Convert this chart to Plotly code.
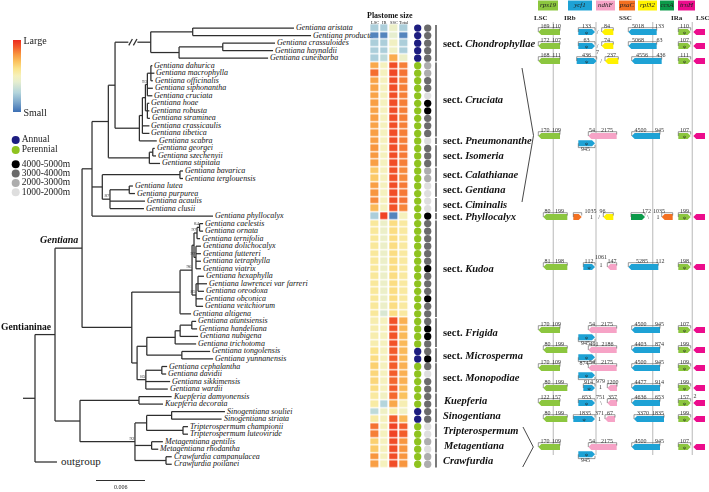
import re
import plotly.graph_objects as go

W, H = 709, 492
SERIF = "Liberation Serif"

# ---------------- DATA ----------------
# Phylogeny in Newick; branch lengths in units of 1e-4 substitutions/site
CHONDRO = ("((Gentiana_aristata:124.0,Gentiana_producta:144.9):51.4,"
           "((Gentiana_crassuloides:64.0,Gentiana_haynaldii:61.6):53.5,Gentiana_cuneibarba:109.0):34.7)//")
CRUCIATA = ("((((Gentiana_dahurica:1.8,Gentiana_macrophylla:4.3,Gentiana_officinalis:2.4):4.3,"
            "Gentiana_siphonantha:6.7,Gentiana_cruciata:6.1)93:2.4,"
            "(Gentiana_hoae:2.4,Gentiana_robusta:2.4,Gentiana_straminea:3.1):2.4):3.7,"
            "Gentiana_crassicaulis:8.6,Gentiana_tibetica:8.6)")
ISOMERIA = "((Gentiana_georgei:2.4,Gentiana_szechenyii:4.0):4.2,Gentiana_stipitata:13.1)"
CALA_GENT_CIMI = ("((Gentiana_bavarica:3.7,Gentiana_terglouensis:3.7):95.1,"
                  "((Gentiana_lutea:4.5,Gentiana_purpurea:7.0):23.6,"
                  "Gentiana_acaulis:42.9,Gentiana_clusii:41.6)87:9.4)")
KUDOA = ("(((((Gentiana_caelestis:4.3,Gentiana_ornata:4.3)84:3.1,Gentiana_ternifolia:3.7)97:3.7,"
         "(Gentiana_dolichocalyx:6.1,Gentiana_futtereri:6.1,Gentiana_tetraphylla:6.1,Gentiana_viatrix:6.1)97:2.4):2.4,"
         "((Gentiana_hexaphylla:7.3,Gentiana_lawrencei_var_farreri:11.0,Gentiana_oreodoxa:7.3):2.4,"
         "Gentiana_obconica:8.6,Gentiana_veitchiorum:8.6)85:4.9)96:14.7,Gentiana_altigena:13.5)")
FRIG_MICRO_MONO = ("(((((Gentiana_atuntsiensis:5.3,Gentiana_handeliana:6.5):14.3,Gentiana_nubigena:22.0):6.1,"
                   "Gentiana_trichotoma:25.7):34.7,(Gentiana_tongolensis:34.7,Gentiana_yunnanensis:38.3):42.9):11.9,"
                   "((Gentiana_cephalantha:6.5,Gentiana_davidii:5.3):19.6,Gentiana_sikkimensis:29.8,"
                   "Gentiana_wardii:26.9)85:10.7)")
OTHER_GENERA = ("((Kuepferia_damyonensis:40.0,Kuepferia_decorata:29.4):72.2,"
                "(((Sinogentiana_souliei:65.3,Sinogentiana_striata:61.2):30.6,"
                "(Tripterospermum_championii:6.1,Tripterospermum_luteoviride:6.1):44.5):14.3,"
                "(Metagentiana_gentilis:13.8,Metagentiana_rhodantha:8.1):20.4,"
                "(Crawfurdia_campanulacea:7.0,Crawfurdia_poilanei:7.0):38.0)92:67.3)")
UPPER = ("(((" + CHONDRO + ":43.7,(" + CRUCIATA + ":3.7,Gentiana_scabra:21.3):29.8):8.2,"
         + ISOMERIA + ":50.2):20.0," + CALA_GENT_CIMI + ":12.6,Gentiana_phyllocalyx:148.2)")
GENTIANA = "(" + UPPER + ":12.2,(" + KUDOA + ":59.1," + FRIG_MICRO_MONO + ":6.5):60.9)Gentiana"
NEWICK = "((" + GENTIANA + ":33.1," + OTHER_GENERA + ":30.6)Gentianinae:24.5,outgroup:26.9):14.7;"
BL_UNIT = 1e-4
SCALE_BAR = 0.006

TAXA = ["Gentiana aristata", "Gentiana producta", "Gentiana crassuloides", "Gentiana haynaldii",
        "Gentiana cuneibarba", "Gentiana dahurica", "Gentiana macrophylla", "Gentiana officinalis",
        "Gentiana siphonantha", "Gentiana cruciata", "Gentiana hoae", "Gentiana robusta",
        "Gentiana straminea", "Gentiana crassicaulis", "Gentiana tibetica", "Gentiana scabra",
        "Gentiana georgei", "Gentiana szechenyii", "Gentiana stipitata", "Gentiana bavarica",
        "Gentiana terglouensis", "Gentiana lutea", "Gentiana purpurea", "Gentiana acaulis",
        "Gentiana clusii", "Gentiana phyllocalyx", "Gentiana caelestis", "Gentiana ornata",
        "Gentiana ternifolia", "Gentiana dolichocalyx", "Gentiana futtereri", "Gentiana tetraphylla",
        "Gentiana viatrix", "Gentiana hexaphylla", "Gentiana lawrencei var farreri", "Gentiana oreodoxa",
        "Gentiana obconica", "Gentiana veitchiorum", "Gentiana altigena", "Gentiana atuntsiensis",
        "Gentiana handeliana", "Gentiana nubigena", "Gentiana trichotoma", "Gentiana tongolensis",
        "Gentiana yunnanensis", "Gentiana cephalantha", "Gentiana davidii", "Gentiana sikkimensis",
        "Gentiana wardii", "Kuepferia damyonensis", "Kuepferia decorata", "Sinogentiana souliei",
        "Sinogentiana striata", "Tripterospermum championii", "Tripterospermum luteoviride",
        "Metagentiana gentilis", "Metagentiana rhodantha", "Crawfurdia campanulacea", "Crawfurdia poilanei"]

# relative plastome region sizes (0 = small, 1 = large)
LSC = [0.25, 0.05, 0.25, 0.25, 0.25,
       0.76, 0.87, 0.77, 0.77, 0.77, 0.78, 0.77, 0.78, 0.77, 0.78,
       0.78, 0.80, 0.79, 0.78, 0.68, 0.68, 0.78, 0.80, 0.82, 0.72, 0.25,
       0.57, 0.57, 0.57, 0.57, 0.57, 0.57, 0.57, 0.57, 0.57, 0.57, 0.57, 0.57, 0.57,
       0.53, 0.53, 0.53, 0.53, 0.60, 0.62, 0.66, 0.64, 0.64, 0.62,
       0.56, 0.55, 0.30, 0.55, 0.86, 0.84, 0.66, 0.68, 0.80, 0.78]
IR = [0.25, 0.05, 0.25, 0.25, 0.30,
      0.50, 0.50, 0.50, 0.50, 0.50, 0.50, 0.50, 0.50, 0.50, 0.50,
      0.50, 0.50, 0.50, 0.50, 0.50, 0.50, 0.50, 0.50, 0.50, 0.50, 0.95,
      0.45, 0.45, 0.45, 0.45, 0.45, 0.45, 0.45, 0.45, 0.45, 0.45, 0.45, 0.45, 0.38,
      0.50, 0.50, 0.50, 0.50, 0.50, 0.50, 0.50, 0.50, 0.50, 0.50,
      0.48, 0.27, 0.47, 0.50, 0.50, 0.50, 0.50, 0.50, 0.50, 0.50]
SSC = [0.45, 0.42, 0.48, 0.47, 0.75,
       0.93, 0.94, 0.93, 0.93, 0.93, 0.93, 0.93, 0.93, 0.93, 0.93,
       0.93, 0.93, 0.93, 0.93, 0.92, 0.92, 0.93, 0.93, 0.93, 0.92, 0.05,
       0.62, 0.62, 0.62, 0.62, 0.62, 0.62, 0.62, 0.62, 0.62, 0.62, 0.62, 0.62, 0.62,
       0.92, 0.92, 0.92, 0.92, 0.90, 0.90, 0.90, 0.90, 0.88, 0.90,
       0.88, 0.76, 0.55, 0.90, 0.95, 0.95, 0.93, 0.93, 0.93, 0.93]
TOTAL = [0.25, 0.05, 0.25, 0.25, 0.45,
         0.84, 0.86, 0.84, 0.84, 0.84, 0.84, 0.84, 0.84, 0.84, 0.84,
         0.84, 0.85, 0.85, 0.84, 0.82, 0.82, 0.85, 0.85, 0.86, 0.83, 0.50,
         0.56, 0.56, 0.56, 0.56, 0.56, 0.56, 0.56, 0.56, 0.56, 0.56, 0.56, 0.56, 0.56,
         0.74, 0.72, 0.72, 0.72, 0.72, 0.72, 0.74, 0.74, 0.74, 0.72,
         0.70, 0.52, 0.48, 0.72, 0.90, 0.90, 0.80, 0.80, 0.80, 0.80]
REGIONS = ["LSC", "IR", "SSC", "Total"]

# life form: A = annual, P = perennial
LIFE = ["A", "A", "A", "A", "A",
        "P", "P", "P", "P", "P", "P", "P", "P", "P", "P",
        "P", "P", "P", "P", "P", "P", "P", "P", "P", "P", "P",
        "P", "P", "P", "P", "P", "P", "P", "P", "P", "P", "P", "P", "P",
        "P", "P", "P", "P", "A", "A", "P", "P", "P", "P",
        "P", "P", "A", "A", "P", "P", "P", "P", "P", "P"]
# altitude class: 4 = 4000-5000m, 3 = 3000-4000m, 2 = 2000-3000m, 1 = 1000-2000m
ALT = [3, 3, 3, 3, 3,
       2, 2, 3, 3, 1, 4, 4, 3, 3, 3,
       1, 3, 3, 3, 2, 2, 1, 1, 1, 1, 4,
       3, 3, 3, 3, 3, 3, 4, 3, 3, 3, 4, 3, 3,
       3, 4, 4, 3, 3, 4, 3, 1, 3, 3,
       3, 3, 3, 3, 1, 1, 2, 1, 2, 2]

# (name, is a section of Gentiana, first row, last row) -- rows 1-based
SECTIONS = [("Chondrophyllae", True, 1, 5), ("Cruciata", True, 6, 15), ("Pneumonanthe", True, 16, 16),
            ("Isomeria", True, 17, 19), ("Calathianae", True, 20, 21), ("Gentiana", True, 22, 23),
            ("Ciminalis", True, 24, 25), ("Phyllocalyx", True, 26, 26), ("Kudoa", True, 27, 39),
            ("Frigida", True, 40, 43), ("Microsperma", True, 44, 45), ("Monopodiae", True, 46, 49),
            ("Kuepferia", False, 50, 51), ("Sinogentiana", False, 52, 53),
            ("Tripterospermum", False, 54, 55), ("Metagentiana", False, 56, 57),
            ("Crawfurdia", False, 58, 59)]

GENES = ["rps19", "ycf1", "ndhF", "psaC", "rpl32", "ccsA", "trnH"]
GENE_COLORS = ["#8cc63f", "#1ea2d5", "#f6a3c6", "#f37021", "#fff200", "#0c9a4a", "#ec0c8c"]

# boundary maps: feature = (gene, left, right, direction, pseudogene, vertical offset)
CRU_FEATS = [("rps19", 538.3, 560.0, "L", 0, 0), ("ndhF", 588.3, 616.7, "L", 0, 0),
             ("ycf1", 578.3, 595.0, "R", 1, 7.3), ("ycf1", 631.7, 660.0, "L", 0, 0),
             ("rps19", 678.3, 690.7, "R", 1, 0), ("trnH", 693.3, 705.0, "L", 0, 0)]
CRU_NUMS = [("170", 545, -6), ("109", 556.5, -6), ("54", 592, -6), ("2175", 607, -6),
            ("945", 585.5, 13.3), ("4500", 640.5, -6), ("945", 659.5, -6), ("107", 684.5, -6)]
CH_FEATS = [("rps19", 538.3, 560.0, "L", 0, 0), ("ycf1", 578.3, 595.0, "R", 1, 0),
            ("rpl32", 601.7, 613.3, "L", 0, 0), ("ycf1", 628.3, 656.7, "L", 0, 0),
            ("rps19", 678.3, 690.7, "R", 1, 0), ("trnH", 693.3, 705.0, "L", 0, 0)]
BOUNDARY_ROWS = [
    (32, CH_FEATS, [("169", 545, -6), ("110", 556.5, -6), ("133", 586.5, -6), ("84", 607, -6),
                    ("5018", 638, -6), ("133", 659.5, -6), ("110", 684.5, -6), ("/", 597.5, 0)]),
    (46, CH_FEATS, [("172", 545, -6), ("107", 556.5, -6), ("63", 586.5, -6), ("74", 607, -6),
                    ("5068", 638, -6), ("63", 659.5, -6), ("107", 684.5, -6), ("/", 597.5, 0)]),
    (61, [("rps19", 538.3, 560.0, "L", 0, 0), ("ycf1", 576.7, 596.7, "R", 1, 0),
          ("rpl32", 605.0, 618.3, "L", 0, 0), ("ycf1", 631.7, 661.7, "L", 0, 0),
          ("rps19", 678.3, 690.7, "R", 1, 0), ("trnH", 693.3, 705.0, "L", 0, 0)],
     [("168", 545, -6), ("111", 556.5, -6), ("436", 586.5, -6), ("7", 597.5, -9), ("237", 611.5, -6),
      ("4556", 642, -6), ("436", 661, -6), ("111", 684.5, -6), ("/", 601, 0)]),
    (136, CRU_FEATS, CRU_NUMS),
    (217, [("rps19", 543.3, 567.3, "L", 0, 0), ("psaC", 573.3, 581.7, "R", 0, 0),
           ("rpl32", 603.3, 613.3, "L", 0, 0), ("ccsA", 631.0, 645.0, "R", 0, 0),
           ("psaC", 661.7, 672.7, "L", 0, 0), ("rps19", 678.3, 690.7, "R", 1, 0),
           ("trnH", 693.3, 705.0, "L", 0, 0)],
     [("80", 547.5, -6), ("199", 559.5, -6), ("1035", 590.5, -6), ("1", 591.5, 0), ("96", 602.5, -6),
      ("/", 599, 0), ("172", 646.5, -6), ("\\", 648, 0), ("1035", 659, -6), ("1", 658, 0),
      ("199", 684.5, -6)]),
    (267, [("rps19", 543.3, 567.3, "L", 0, 0), ("ycf1", 583.3, 595.0, "R", 1, 0),
           ("ndhF", 607.3, 616.7, "L", 0, 0), ("ycf1", 628.3, 658.3, "L", 0, 0),
           ("rps19", 678.3, 690.7, "R", 1, 0), ("trnH", 693.3, 705.0, "L", 0, 0)],
     [("81", 547.5, -6), ("198", 559.5, -6), ("112", 589, -6), ("1061", 601, -10), ("1", 601, -2),
      ("147", 612, -6), ("5285", 642, -6), ("112", 660, -6), ("198", 684.5, -6)]),
    (330, CRU_FEATS, CRU_NUMS),
    (350, [("rps19", 543.3, 567.3, "L", 0, 0), ("ndhF", 588.3, 616.7, "L", 0, 0),
           ("ycf1", 578.3, 595.0, "R", 1, 7.3), ("ycf1", 631.7, 660.0, "L", 0, 0),
           ("rps19", 678.3, 690.7, "R", 1, 0), ("trnH", 693.3, 705.0, "L", 0, 0)],
     [("80", 547.5, -6), ("199", 559.5, -6), ("491", 594, -5.5), ("2186", 607.5, -6), ("874", 584, 13.3),
      ("4403", 640.5, -6), ("874", 659.5, -6), ("199", 684.5, -6)]),
    (368, CRU_FEATS, [("170", 545, -6), ("109", 556.5, -6), ("54", 592, -6), ("2175", 607, -6),
                      ("4500", 640.5, -6), ("945", 659.5, -6), ("109", 684.5, -6)]),
    (388, [("rps19", 543.3, 567.3, "L", 0, 0), ("ycf1", 583.3, 595.0, "R", 1, 0),
           ("ndhF", 607.3, 617.0, "L", 0, 0), ("ycf1", 631.7, 660.0, "L", 0, 0),
           ("rps19", 678.3, 690.7, "R", 1, 0), ("trnH", 693.3, 705.0, "L", 0, 0)],
     [("80", 547.5, -6), ("199", 559.5, -6), ("914", 588.5, -6), ("979", 600.5, -7), ("1", 600.5, -1),
      ("1200", 612.5, -6), ("4477", 640.5, -6), ("914", 659.5, -6), ("199", 684.5, -6)]),
    (403, [("rps19", 538.3, 560.0, "L", 0, 0), ("ycf1", 578.3, 595.0, "R", 1, 0),
           ("ndhF", 607.3, 617.0, "L", 0, 0), ("ycf1", 631.7, 660.0, "L", 0, 0),
           ("rps19", 678.3, 690.7, "R", 1, 0), ("trnH", 693.3, 705.0, "L", 0, 0)],
     [("122", 545, -6), ("157", 556.5, -6), ("653", 586.5, -6), ("751", 600.5, -6), ("\\", 601, 0),
      ("357", 612.5, -6), ("4636", 640.5, -6), ("653", 659.5, -6), ("157", 684.5, -6), ("2", 695, -7)]),
    (419, [("rps19", 543.3, 567.3, "L", 0, 0), ("ycf1", 573.3, 595.0, "R", 1, 0),
           ("ndhF", 605.0, 615.0, "L", 0, 0), ("ycf1", 634.0, 664.0, "L", 0, 0),
           ("rps19", 678.3, 690.7, "R", 1, 0), ("trnH", 693.3, 705.0, "L", 0, 0)],
     [("80", 547.5, -6), ("199", 559.5, -6), ("1835", 585, -6), ("371", 599.5, -6), ("1", 599.5, 0),
      ("67", 610, -6), ("3370", 643, -6), ("1835", 658, -6), ("199", 684.5, -6)]),
    (447, CRU_FEATS, CRU_NUMS),
]
JUNCTIONS = [553.3, 596.0, 652.7, 692.3]
JUNCTION_LABELS = [("LSC", 541), ("IRb", 570), ("SSC", 625), ("IRa", 677), ("LSC", 702.5)]
LEGEND_BOXES = [(538, 558), (568, 592), (596, 615), (619, 635), (638, 657), (660, 674), (678, 695)]

# ---------------- LAYOUT CONSTANTS ----------------
ROW0, ROWPX = 28.1, 7.52           # px of first row, px per row
TREE_X0 = 23.0                      # px of tree root stub start
PXU = 49.0 / SCALE_BAR              # px per substitution unit
OUTGROUP_ROW = 57.7
LINE_C = "#2e2e2e"

ROW_OF = {t: i for i, t in enumerate(TAXA)}


def parse_newick(s):
    s = s.strip().rstrip(";")
    pos = 0

    def node():
        nonlocal pos
        n = {"children": [], "name": "", "label": "", "len": 0.0}
        if s[pos] == "(":
            pos += 1
            while True:
                n["children"].append(node())
                c = s[pos]
                pos += 1
                if c == ")":
                    break
        tok = re.match(r"[^:,();]*", s[pos:]).group(0)
        pos += len(tok)
        if n["children"]:
            n["label"] = tok
        else:
            n["name"] = tok.replace("_", " ")
        if pos < len(s) and s[pos] == ":":
            pos += 1
            num = re.match(r"[-+0-9.eE]+", s[pos:]).group(0)
            pos += len(num)
            n["len"] = float(num) * BL_UNIT
        return n

    return node()


def place(n, px):
    n["x"] = px + n["len"]
    if n["children"]:
        for c in n["children"]:
            place(c, n["x"])
        n["y"] = (n["children"][0]["y"] + n["children"][-1]["y"]) / 2
    else:
        n["y"] = ROW_OF.get(n["name"], OUTGROUP_ROW)


root = parse_newick(NEWICK)
place(root, 0.0)

lx, ly = [], []
leaves, inner = [], []


def seg(x0, y0, x1, y1):
    lx.extend([x0, x1, None])
    ly.extend([y0, y1, None])


def walk(n, parent):
    if parent is None:
        seg(0.0, n["y"], n["x"], n["y"])
    elif n["label"] == "//":
        xm = (parent["x"] + n["x"]) / 2
        g = 4.5 / PXU
        seg(parent["x"], n["y"], xm - g, n["y"])
        seg(xm + g, n["y"], n["x"], n["y"])
        for off in (-2.3, 2.3):
            seg(xm + (off - 1.8) / PXU, n["y"] + 3.2 / ROWPX, xm + (off + 1.8) / PXU, n["y"] - 3.2 / ROWPX)
    else:
        seg(parent["x"], n["y"], n["x"], n["y"])
    if n["children"]:
        inner.append(n)
        seg(n["x"], n["children"][0]["y"], n["x"], n["children"][-1]["y"])
        for c in n["children"]:
            walk(c, n)
    else:
        leaves.append(n)


walk(root, None)

fig = go.Figure()

# tree branches
fig.add_trace(go.Scatter(x=lx, y=ly, mode="lines", line=dict(color=LINE_C, width=1.25),
                         hoverinfo="skip", xaxis="x", yaxis="y"))
# tip labels
tips = [l for l in leaves if l["name"] in ROW_OF]
fig.add_trace(go.Scatter(x=[(round(l["x"] * PXU) + 2.0) / PXU for l in tips], y=[l["y"] for l in tips],
                         text=["<i>%s</i>" % l["name"] for l in tips], mode="text",
                         textposition="middle right", opacity=0.99,
                         textfont=dict(family=SERIF, size=8, color="#111111"),
                         hoverinfo="skip", xaxis="x", yaxis="y"))
og = [l for l in leaves if l["name"] not in ROW_OF]
fig.add_trace(go.Scatter(x=[l["x"] + 4.0 / PXU for l in og], y=[l["y"] for l in og],
                         text=[l["name"] for l in og], mode="text", textposition="middle right",
                         opacity=0.99, textfont=dict(family=SERIF, size=11, color="#1a1a1a"),
                         hoverinfo="skip", xaxis="x", yaxis="y"))
# support values
sup = [n for n in inner if n["label"].isdigit()]
fig.add_trace(go.Scatter(x=[n["x"] - 0.5 / PXU for n in sup], y=[n["y"] - 0.1 for n in sup],
                         text=[n["label"] for n in sup], mode="text", textposition="top left",
                         opacity=0.99, textfont=dict(family=SERIF, size=5, color="#333"),
                         hoverinfo="skip", xaxis="x", yaxis="y"))
annotations = []
for n in inner:
    if n["label"] == "Gentiana":
        annotations.append(dict(x=n["x"], y=n["y"], xref="x", yref="y", text="<b><i>Gentiana</i></b>",
                                showarrow=False, xanchor="right", yanchor="bottom", xshift=-2, yshift=1,
                                font=dict(family=SERIF, size=10, color="#111")))
    elif n["label"] == "Gentianinae":
        annotations.append(dict(x=-TREE_X0 / PXU, y=n["y"], xref="x", yref="y", text="<b>Gentianinae</b>",
                                showarrow=False, xanchor="left", yanchor="bottom", xshift=-1, yshift=1,
                                font=dict(family=SERIF, size=9.6, color="#111")))
# scale bar
sb_x0 = (96.0 - TREE_X0) / PXU
sb_row = (480.5 - ROW0) / ROWPX
fig.add_trace(go.Scatter(x=[sb_x0, sb_x0 + SCALE_BAR], y=[sb_row, sb_row], mode="lines",
                         line=dict(color=LINE_C, width=1.2), hoverinfo="skip", xaxis="x", yaxis="y"))
annotations.append(dict(x=sb_x0 + SCALE_BAR / 2, y=sb_row, xref="x", yref="y", text="0.006",
                        showarrow=False, yanchor="top", yshift=-1,
                        font=dict(family=SERIF, size=6, color="#222")))

# heatmap of plastome sizes
COLORSCALE = [[0.0, "#3c6fb4"], [0.14, "#7ea9cc"], [0.27, "#b4d5dc"], [0.42, "#e6eecf"],
              [0.5, "#f5f1bd"], [0.6, "#fbe48c"], [0.7, "#fbc25e"], [0.8, "#f8963f"],
              [0.9, "#f35c2b"], [1.0, "#ec2a1e"]]
fig.add_trace(go.Heatmap(
    z=[[LSC[i], IR[i], SSC[i], TOTAL[i]] for i in range(len(TAXA))],
    x=REGIONS, y=list(range(len(TAXA))), xaxis="x2", yaxis="y",
    colorscale=COLORSCALE, zmin=0, zmax=1, xgap=1.8, ygap=1.2, hoverinfo="skip",
    colorbar=dict(x=13.0 / W, xanchor="left", y=1 - 76.0 / H, yanchor="middle",
                  len=72.0 / H, lenmode="fraction", thickness=8, thicknessmode="pixels",
                  outlinewidth=0, tickvals=[0, 1], ticktext=["Small", "Large"], ticks="",
                  tickfont=dict(family=SERIF, size=10, color="#222"), xpad=0, ypad=0)))

# life form and altitude dots
LIFE_COL = {"A": "#1d1d80", "P": "#8fc31f"}
ALT_COL = {4: "#000000", 3: "#6b6b6b", 2: "#adadad", 1: "#dedede"}
n_t = len(TAXA)
fig.add_trace(go.Scatter(x=["life"] * n_t + ["alt"] * n_t, y=list(range(n_t)) * 2, mode="markers",
                         marker=dict(size=7.3, color=[LIFE_COL[v] for v in LIFE] + [ALT_COL[v] for v in ALT],
                                     line=dict(width=0)),
                         hoverinfo="skip", xaxis="x3", yaxis="y"))

# section brackets and labels
shapes = []
for name, is_sect, r0, r1 in SECTIONS:
    shapes.append(dict(type="line", xref="paper", yref="y", x0=436.0 / W, x1=436.0 / W,
                       y0=r0 - 1 - 0.42, y1=r1 - 1 + 0.42, line=dict(color="#222", width=1.2)))
    txt = ("<b>sect. <i>%s</i></b>" % name) if is_sect else ("<b><i>%s</i></b>" % name)
    annotations.append(dict(x=440.5 / W, y=(r0 + r1) / 2 - 1, xref="paper", yref="y", text=txt,
                            showarrow=False, xanchor="left", yanchor="middle",
                            font=dict(family=SERIF, size=10.5, color="#111")))

# heatmap headers (pixel axis)
annotations.append(dict(x=389.6, y=15.5, xref="x4", yref="y4", text="<b>Plastome size</b>", showarrow=False,
                        font=dict(family=SERIF, size=8, color="#111")))
for k, r in enumerate(REGIONS):
    annotations.append(dict(x=370.2 + 4.85 + 9.7 * k, y=22.3, xref="x4", yref="y4", text=r,
                            showarrow=False, font=dict(family=SERIF, size=4.5, color="#222")))

# left legend: life form + altitude
LEG_ITEMS = [("Annual", LIFE_COL["A"], 140.0), ("Perennial", LIFE_COL["P"], 150.0),
             ("4000-5000m", ALT_COL[4], 164.3), ("3000-4000m", ALT_COL[3], 173.5),
             ("2000-3000m", ALT_COL[2], 183.0), ("1000-2000m", ALT_COL[1], 192.2)]
fig.add_trace(go.Scatter(x=[15.7] * len(LEG_ITEMS), y=[it[2] for it in LEG_ITEMS], mode="markers+text",
                         marker=dict(size=8, color=[it[1] for it in LEG_ITEMS], line=dict(width=0)),
                         text=[it[0] for it in LEG_ITEMS], textposition="middle right",
                         textfont=dict(family=SERIF, size=9.5, color="#222"),
                         hoverinfo="skip", xaxis="x4", yaxis="y4"))

# ---------- boundary panel ----------
for jx in JUNCTIONS:
    shapes.append(dict(type="line", xref="x4", yref="y4", x0=jx, x1=jx, y0=22, y1=455,
                       line=dict(color="#c9c9c9", width=1.3), layer="below"))
for lab, xx in JUNCTION_LABELS:
    annotations.append(dict(x=xx, y=18, xref="x4", yref="y4", text="<b>%s</b>" % lab, showarrow=False,
                            font=dict(family=SERIF, size=7, color="#222")))
gcol = dict(zip(GENES, GENE_COLORS))
for (x0, x1), g in zip(LEGEND_BOXES, GENES):
    shapes.append(dict(type="rect", xref="x4", yref="y4", x0=x0, x1=x1, y0=0.5, y1=10.5,
                       fillcolor=gcol[g], line=dict(width=0), layer="below"))
fig.add_trace(go.Scatter(x=[(b[0] + b[1]) / 2 for b in LEGEND_BOXES], y=[5.7] * len(GENES),
                         text=["<i>%s</i>" % g for g in GENES], mode="text",
                         textfont=dict(family=SERIF, size=7, color="#222"),
                         hoverinfo="skip", xaxis="x4", yaxis="y4"))

# connector brackets (">")
CONNECTORS = [((522.0, 68.0), (533.5, 135.5), (522.0, 202.0)),
              ((523.0, 427.0), (533.3, 447.0), (522.7, 467.0))]
for a, b, c in CONNECTORS:
    shapes.append(dict(type="path", xref="x4", yref="y4",
                       path="M %f,%f L %f,%f L %f,%f" % (a[0], a[1], b[0], b[1], c[0], c[1]),
                       line=dict(color="#333", width=0.9)))

bx, by = [], []
nx, ny, nt = [], [], []
px_, py_ = [], []
hh = 3.0
for yrow, feats, nums in BOUNDARY_ROWS:
    for g, x0, x1, d, psi, dy in feats:
        yc = yrow + dy
        a = min(3.0, (x1 - x0) / 2)
        if d == "L":
            pts = [(x0, yc), (x0 + a, yc - hh), (x1, yc - hh), (x1, yc + hh), (x0 + a, yc + hh)]
        else:
            pts = [(x1, yc), (x1 - a, yc - hh), (x0, yc - hh), (x0, yc + hh), (x1 - a, yc + hh)]
        path = "M " + " L ".join("%.2f,%.2f" % p for p in pts) + " Z"
        shapes.append(dict(type="path", xref="x4", yref="y4", path=path, fillcolor=gcol[g],
                           line=dict(width=0), layer="below"))
        if psi:
            px_.append((x0 + x1) / 2)
            py_.append(yc + 0.3)
        if g != "trnH":
            if dy == 0:
                yb = yc - 4.3
                bx.extend([x0, x0, x1, x1, None])
                by.extend([yc, yb, yb, yc - 1.5, None])
            else:
                yb = yc + 4.3
                bx.extend([x0, x0, x1, x1, None])
                by.extend([yc, yb, yb, yc + 1.5, None])
    for t, xx, dy in nums:
        nx.append(xx)
        ny.append(yrow + dy)
        nt.append(t)

fig.add_trace(go.Scatter(x=bx, y=by, mode="lines", line=dict(color="#555", width=0.6),
                         hoverinfo="skip", xaxis="x4", yaxis="y4"))
fig.add_trace(go.Scatter(x=nx, y=ny, text=nt, mode="text",
                         textfont=dict(family=SERIF, size=6, color="#333"),
                         hoverinfo="skip", xaxis="x4", yaxis="y4"))
fig.add_trace(go.Scatter(x=px_, y=py_, text=["ψ"] * len(px_), mode="text",
                         textfont=dict(family=SERIF, size=5, color="#222"),
                         hoverinfo="skip", xaxis="x4", yaxis="y4"))

ax_off = dict(visible=False, showgrid=False, zeroline=False, fixedrange=True)
fig.update_layout(
    width=W, height=H, margin=dict(l=0, r=0, t=0, b=0, autoexpand=False),
    paper_bgcolor="white", plot_bgcolor="rgba(0,0,0,0)", showlegend=False,
    xaxis=dict(domain=[0, 1], range=[-TREE_X0 / PXU, (W - TREE_X0) / PXU], anchor="y", **ax_off),
    yaxis=dict(domain=[0, 1], range=[(H - ROW0) / ROWPX, -ROW0 / ROWPX], anchor="x", **ax_off),
    xaxis2=dict(domain=[370.2 / W, 409.0 / W], type="category", categoryorder="array",
                categoryarray=REGIONS, range=[-0.5, 3.5], anchor="y", **ax_off),
    xaxis3=dict(domain=[412.7 / W, 432.7 / W], type="category", categoryorder="array",
                categoryarray=["life", "alt"], range=[-0.5, 1.5], anchor="y", **ax_off),
    xaxis4=dict(domain=[0, 1], range=[0, W], anchor="y4", **ax_off),
    yaxis4=dict(domain=[0, 1], range=[H, 0], anchor="x4", **ax_off),
    shapes=shapes, annotations=annotations,
)
fig.write_html("out.html", config={"displayModeBar": False},
               post_script="document.body.style.margin='0px';document.body.style.overflow='hidden';")
